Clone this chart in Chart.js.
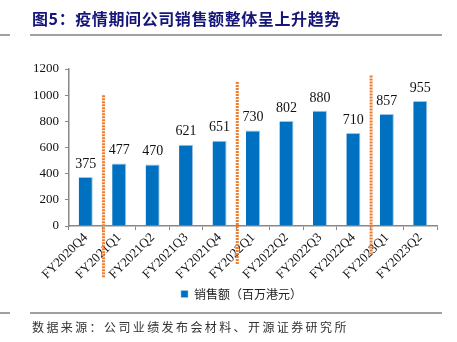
<!DOCTYPE html>
<html>
<head>
<meta charset="utf-8">
<script src="https://cdn.jsdelivr.net/npm/chart.js@4"></script>
<style>
  body { margin: 0; background: #fff; }
  #wrap { position: relative; width: 457px; height: 342px; overflow: hidden; }
  #wrap canvas { position: absolute; left: 0; top: 0; }
  .title { position: absolute; left: 32px; top: 6px; font: bold 16px "Noto Sans CJK SC"; color: #15157a; white-space: nowrap; letter-spacing: 0.6px; }
  .rule { position: absolute; height: 2px; background: #a0a0a0; }
  .source { position: absolute; left: 32px; top: 318px; font: 12px "Noto Sans CJK SC"; color: #333; letter-spacing: 2.4px; white-space: nowrap; }
</style>
</head>
<body>
<div id="wrap">
  <canvas id="c" width="457" height="342"></canvas>
  <div class="title">图5：疫情期间公司销售额整体呈上升趋势</div>
  <div class="rule" style="left:0;width:10px;top:34px"></div>
  <div class="rule" style="left:30px;width:412px;top:34px"></div>
  <div class="rule" style="left:0;width:10px;top:312px"></div>
  <div class="rule" style="left:30px;width:412px;top:312px"></div>
  <div class="source">数据来源：公司业绩发布会材料、开源证券研究所</div>
</div>
<script>
const quarters = ['FY2020Q4', 'FY2021Q1', 'FY2021Q2', 'FY2021Q3', 'FY2021Q4', 'FY2022Q1',
                  'FY2022Q2', 'FY2022Q3', 'FY2022Q4', 'FY2023Q1', 'FY2023Q2'];
const sales = [375, 477, 470, 621, 651, 730, 802, 880, 710, 857, 955];
const yTicks = [0, 200, 400, 600, 800, 1000, 1200];

// orange dashed separators: after which bar, and value range they span
const sepAfter = [0, 4, 8];
const sepTop = [1000, 1100, 1150];
const sepBottom = [-400, -290, -215];

const serif = "'Liberation Serif', 'Times New Roman', serif";

const labelPlugin = {
  id: 'barLabels',
  afterDatasetsDraw(chart) {
    const ctx = chart.ctx;
    const meta = chart.getDatasetMeta(0);
    ctx.save();
    ctx.font = '14px ' + serif;
    ctx.fillStyle = '#111';
    ctx.textAlign = 'center';
    ctx.textBaseline = 'bottom';
    meta.data.forEach((bar, i) => {
      ctx.fillText(sales[i], bar.x, bar.y - 6);
    });
    ctx.restore();
  }
};

const sepPlugin = {
  id: 'separators',
  afterLayout(chart) {
    // nudge legend to sit under the middle of the plot, as in the source
    chart.legend.left += 23;
    chart.legend.right += 23;
  },
  afterDraw(chart) {
    const ctx = chart.ctx;
    const xs = chart.scales.x, ys = chart.scales.y;
    ctx.save();
    ctx.strokeStyle = '#ed7d31';
    ctx.lineWidth = 3;
    ctx.setLineDash([2, 1]);
    sepAfter.forEach((i, k) => {
      const x = (xs.getPixelForValue(i) + xs.getPixelForValue(i + 1)) / 2 + 1;
      ctx.beginPath();
      ctx.moveTo(x, ys.getPixelForValue(sepTop[k]));
      ctx.lineTo(x, ys.getPixelForValue(sepBottom[k]));
      ctx.stroke();
    });
    ctx.restore();
  }
};

new Chart(document.getElementById('c'), {
  type: 'bar',
  data: {
    labels: quarters,
    datasets: [{
      label: '销售额（百万港元）',
      data: sales,
      backgroundColor: '#0070c0',
      borderColor: '#9dc3e6',
      borderWidth: { top: 1, right: 1, left: 0, bottom: 0 },
      categoryPercentage: 1,
      barPercentage: 0.42
    }]
  },
  options: {
    responsive: false,
    animation: false,
    layout: { padding: { left: 0, right: 20, top: 69, bottom: 32 } },
    plugins: {
      legend: {
        position: 'bottom',
        labels: {
          boxWidth: 7, boxHeight: 7, padding: 4,
          color: '#222',
          font: { family: 'Noto Sans CJK SC', size: 12 }
        }
      },
      tooltip: { enabled: false }
    },
    scales: {
      x: {
        offset: true,
        grid: { drawOnChartArea: false, offset: true, tickLength: 4, color: '#888' },
        border: { color: '#888', width: 1.5 },
        ticks: {
          color: '#111', maxRotation: 45, minRotation: 45, padding: 0,
          font: { family: serif, size: 13 }
        },
        afterFit(s) { s.height = 58; }
      },
      y: {
        min: 0, max: 1200,
        afterBuildTicks(s) { s.ticks = yTicks.map(v => ({ value: v })); },
        grid: { drawOnChartArea: false, tickLength: 4, color: '#888' },
        border: { color: '#888', width: 1.5 },
        ticks: {
          color: '#111', padding: 6,
          font: { family: serif, size: 13 },
          callback: v => String(v)
        },
        afterFit(s) { s.width = 69; }
      }
    }
  },
  plugins: [labelPlugin, sepPlugin]
});
</script>
</body>
</html>
